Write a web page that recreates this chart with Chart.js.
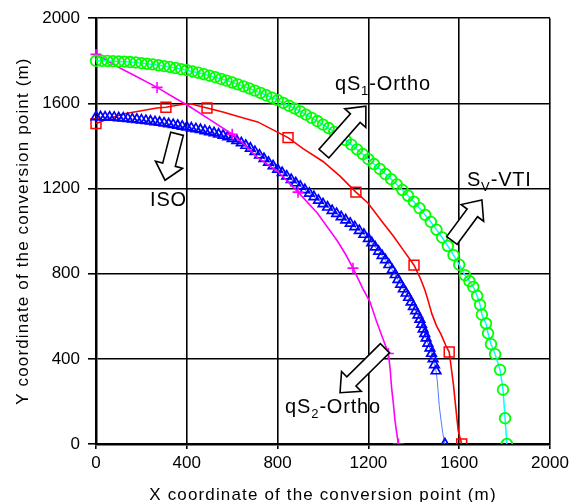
<!DOCTYPE html>
<html><head><meta charset="utf-8">
<script src="https://cdn.jsdelivr.net/npm/chart.js@4"></script>
<style>html,body{margin:0;padding:0;background:#fff}</style>
</head><body>
<canvas id="c" width="588" height="502" style="width:588px;height:502px"></canvas>
<script>
// ---------- DATA ----------
const tickValues = [0, 400, 800, 1200, 1600, 2000];
const tickLabels = ['0', '400', '800', '1200', '1600', '2000'];
const xTitle = 'X coordinate of the conversion point (m)';
const yTitle = 'Y coordinate of the conversion point (m)';

// SV-VTI (green circles, cyan line)
const greenX = [0,25,50,75,100,125,150,175,200,225,250,275,300,325,350,375,400,425,450,475,500,525,550,575,600,625,650,675,700,725,750,775,800,825,850,875,900,925,950,975,1000,1025,1050,1075,1100,1125,1150,1175,1200,1225,1250,1275,1300,1325,1350,1375,1400,1425,1450,1475,1500,1525,1550,1575,1600,1625,1645,1662,1679,1692,1700,1718,1727,1740,1758,1780,1793,1802,1810];
const greenY = [1800,1800,1799,1798,1797,1796,1794,1792,1789,1786,1783,1779,1775,1771,1766,1761,1756,1750,1744,1737,1730,1723,1715,1707,1698,1689,1680,1670,1660,1649,1638,1627,1615,1602,1589,1576,1562,1547,1532,1517,1500,1484,1466,1447,1427,1406,1384,1362,1338,1315,1292,1268,1244,1219,1193,1166,1138,1108,1076,1043,1007,970,930,887,842,793,765,738,696,654,608,566,520,469,422,348,255,121,0];

// blue triangles
const blueX = [0,20,40,60,80,100,120,140,160,180,200,220,240,260,280,300,320,340,360,380,400,420,440,460,480,500,520,540,560,580,600,620,640,660,680,700,720,740,760,780,800,820,840,860,880,900,920,940,960,980,1000,1020,1040,1060,1080,1100,1120,1140,1160,1180,1200,1215,1230,1245,1260,1275,1290,1305,1318,1330,1342,1354,1366,1377,1388,1398,1408,1418,1427,1434,1441,1448,1454,1462,1471,1478,1485,1491,1498];
const blueY = [1536,1536,1535,1535,1534,1532,1530,1528,1526,1524,1521,1519,1516,1513,1510,1507,1503,1500,1496,1492,1488,1484,1480,1476,1471,1466,1461,1455,1449,1442,1434,1425,1414,1402,1389,1373,1357,1340,1323,1306,1290,1274,1258,1242,1226,1210,1194,1177,1161,1144,1128,1112,1096,1082,1067,1052,1036,1020,1002,984,965,945,925,905,885,865,842,818,795,772,750,728,708,688,666,645,625,605,585,562,540,518,497,473,450,425,400,372,343];
const blueTailX = [1503,1507,1512,1520,1528,1537];
const blueTailY = [300,250,180,111,50,0];
const blueEndX = [1537];
const blueEndY = [0];

// red line with squares
const redX = [0,50,119,194,268,308,383,420,445,489,559,634,712,846,912,1000,1075,1145,1198,1264,1308,1361,1401,1430,1450,1464,1480,1500,1520,1540,1556,1566,1575,1586,1596,1611];
const redY = [1505,1525,1550,1564,1578,1582,1596,1598,1590,1578,1559,1536,1513,1439,1387,1327,1258,1183,1132,1039,979,900,840,775,720,670,610,555,515,465,432,350,275,160,60,0];
const redMarkX = [0,308,489,846,1145,1401,1556,1611];
const redMarkY = [1505,1582,1578,1439,1183,840,432,0];

// magenta line with crosses
const magX = [0,40,106,180,269,340,414,500,600,660,708,800,890,974,1031,1062,1100,1132,1176,1207,1236,1262,1288,1296,1302,1310,1317,1325,1332];
const magY = [1830,1806,1766,1725,1675,1630,1584,1525,1455,1400,1349,1281,1183,1086,1002,956,890,826,729,668,575,500,425,350,266,190,111,50,0];
const magMarkX = [0,269,600,890,1132,1288,1332];
const magMarkY = [1830,1675,1455,1183,826,425,0];

// annotations (data units)
const arrows = [
  {x1:357, y1:1457, x2:304, y2:1239},
  {x1:1004, y1:1364, x2:1189, y2:1587},
  {x1:1568, y1:956, x2:1700, y2:1146},
  {x1:1273, y1:450, x2:1075, y2:241}
];
const labels = [
  {x:1053, y:1661, parts:[['qS',0],['1',1],['-Ortho',0]]},
  {x:1634, y:1211, parts:[['S',0],['V',1],['-VTI',0]]},
  {x:238, y:1118, parts:[['ISO',0]]},
  {x:833, y:144, parts:[['qS',0],['2',1],['-Ortho',0]]}
];

// ---------- BUILD ----------
const pts = (xs, ys) => xs.map((x, i) => ({x, y: ys[i]}));
const FONT = "'Liberation Sans', Arial, sans-serif";
const noClip = {left:false, top:false, right:false, bottom:0};

const datasets = [
  { data: pts(greenX, greenY), showLine:true, borderColor:'#00FFFF', borderWidth:1.5,
    pointStyle:'circle', pointRadius:5.3, pointBorderColor:'#00FF00', pointBackgroundColor:'rgba(0,0,0,0)',
    pointBorderWidth:1.8, order:0, clip:noClip },
  { data: pts(magMarkX, magMarkY), showLine:false, pointStyle:'cross', pointRadius:5.5,
    pointBorderColor:'#FF00FF', pointBorderWidth:1.6, order:1, clip:noClip },
  { data: pts(magX, magY), showLine:true, borderColor:'#FF00FF', borderWidth:1.6, pointRadius:0, order:1, clip:noClip },
  { data: pts(blueX, blueY), showLine:false, pointStyle:'triangle', pointRadius:5.5,
    pointBorderColor:'#0000FF', pointBackgroundColor:'rgba(0,0,0,0)', pointBorderWidth:1.7, order:2, clip:noClip },
  { data: pts(blueEndX, blueEndY), showLine:false, pointStyle:'triangle', pointRadius:5.5,
    pointBorderColor:'#0000FF', pointBackgroundColor:'rgba(0,0,0,0)', pointBorderWidth:1.7, order:2, clip:noClip },
  { data: pts(blueX.concat(blueTailX), blueY.concat(blueTailY)), showLine:true, borderColor:'#4D7CFF',
    borderWidth:1, pointRadius:0, order:2, clip:noClip },
  { data: pts(redMarkX, redMarkY), showLine:false, pointStyle:'rect', pointRadius:7,
    pointBorderColor:'#FF0000', pointBackgroundColor:'rgba(0,0,0,0)', pointBorderWidth:1.5, order:3, clip:noClip },
  { data: pts(redX, redY), showLine:true, borderColor:'#FF0000', borderWidth:1.6, pointRadius:0, order:3, clip:noClip }
];

function drawArrow(ctx, x1, y1, x2, y2) {
  const dx = x2 - x1, dy = y2 - y1, L = Math.hypot(dx, dy);
  const ux = dx / L, uy = dy / L, nx = -uy, ny = ux;
  const sh = 6.5, hh = 14, hl = 16;
  const bx = x2 - ux * hl, by = y2 - uy * hl;
  ctx.beginPath();
  ctx.moveTo(x1 + nx * sh, y1 + ny * sh);
  ctx.lineTo(bx + nx * sh, by + ny * sh);
  ctx.lineTo(bx + nx * hh, by + ny * hh);
  ctx.lineTo(x2, y2);
  ctx.lineTo(bx - nx * hh, by - ny * hh);
  ctx.lineTo(bx - nx * sh, by - ny * sh);
  ctx.lineTo(x1 - nx * sh, y1 - ny * sh);
  ctx.closePath();
  ctx.fillStyle = '#fff';
  ctx.fill();
  ctx.lineWidth = 1.6;
  ctx.strokeStyle = '#000';
  ctx.lineJoin = 'miter';
  ctx.stroke();
}

const overlay = {
  id: 'overlay',
  afterDraw(chart) {
    const ctx = chart.ctx, xs = chart.scales.x, ys = chart.scales.y, ca = chart.chartArea;
    ctx.save();
    arrows.forEach(a => drawArrow(ctx, xs.getPixelForValue(a.x1), ys.getPixelForValue(a.y1),
                                        xs.getPixelForValue(a.x2), ys.getPixelForValue(a.y2)));
    ctx.fillStyle = '#000';
    ctx.textBaseline = 'alphabetic';
    ctx.textAlign = 'left';
    labels.forEach(l => {
      let px = xs.getPixelForValue(l.x);
      const py = ys.getPixelForValue(l.y);
      l.parts.forEach(([t, sub]) => {
        ctx.font = (sub ? '13px ' : '20px ') + FONT;
        ctx.letterSpacing = sub ? '0px' : '0.8px';
        ctx.fillText(t, px, py + (sub ? 5 : 0));
        px += ctx.measureText(t).width + (sub ? 1 : 0);
      });
    });
    // axis titles
    ctx.font = '17px ' + FONT;
    ctx.letterSpacing = '1.15px';
    ctx.textAlign = 'center';
    ctx.textBaseline = 'alphabetic';
    ctx.fillText(xTitle, (ca.left + ca.right) / 2, 499.5);
    ctx.translate(27.5, (ca.top + ca.bottom) / 2);
    ctx.rotate(-Math.PI / 2);
    ctx.fillText(yTitle, 0, 0);
    ctx.restore();
  }
};

const axisCommon = {
  type: 'linear', min: 0, max: 2000,
  border: { display: true, color: '#000', width: 2.5 },
  ticks: { color: '#000', font: { family: FONT, size: 17 }, autoSkip: false, maxRotation: 0,
           callback: (v) => tickLabels[tickValues.indexOf(v)] },
  afterBuildTicks: s => { s.ticks = tickValues.map(v => ({ value: v })); }
};

new Chart(document.getElementById('c'), {
  type: 'scatter',
  data: { datasets },
  options: {
    responsive: false, animation: false, devicePixelRatio: 1,
    layout: { padding: { top: 13, right: 38, bottom: 0, left: 0 } },
    plugins: { legend: { display: false }, tooltip: { enabled: false } },
    elements: { line: { tension: 0 } },
    scales: {
      x: Object.assign({}, axisCommon, {
        position: 'bottom',
        grid: { color: '#000', lineWidth: 1.6, tickLength: 5, drawTicks: true, tickColor: '#000' },
        ticks: Object.assign({}, axisCommon.ticks, { padding: 4 }),
        afterFit: s => { s.height = 58; }
      }),
      y: Object.assign({}, axisCommon, {
        position: 'left',
        grid: { color: '#000', lineWidth: 1.6, tickLength: 8, drawTicks: true, tickColor: '#000' },
        ticks: Object.assign({}, axisCommon.ticks, { padding: 8 }),
        afterFit: s => { s.width = 96; }
      })
    }
  },
  plugins: [overlay]
});
</script>
</body></html>
